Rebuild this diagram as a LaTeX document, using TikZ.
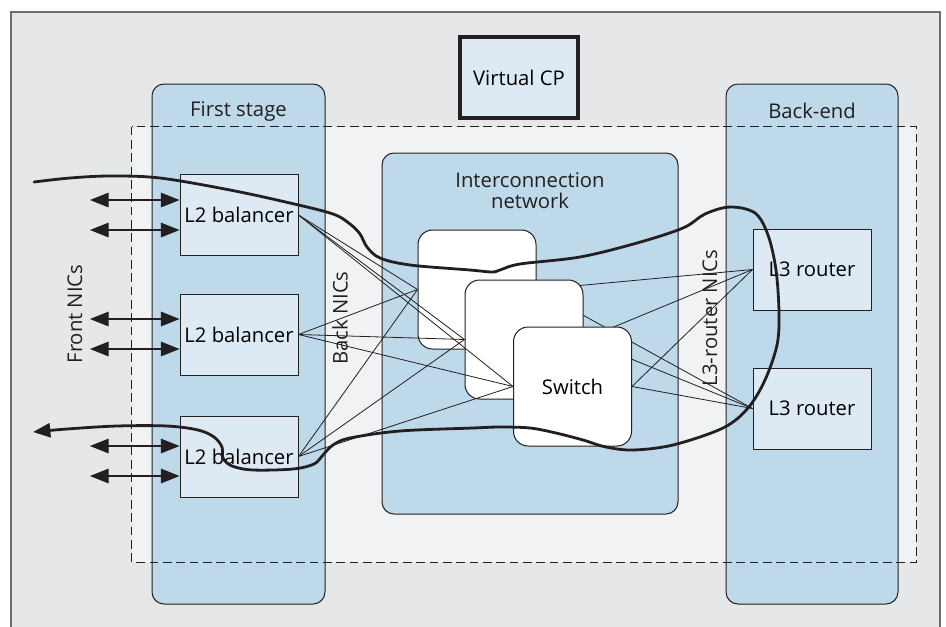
\documentclass[tikz,border=0pt]{standalone}
\usepackage{fontspec}
\setmainfont{Open Sans}
\usetikzlibrary{arrows.meta}
\definecolor{outerbg}{HTML}{E6E7E9}
\definecolor{framec}{HTML}{6D6E71}
\definecolor{zonebg}{HTML}{F1F2F4}
\definecolor{blueC}{HTML}{BDD9EA}
\definecolor{lightB}{HTML}{DDEAF4}
\definecolor{ink}{HTML}{231F20}
\begin{document}
\begin{tikzpicture}[x=0.75pt,y=-0.75pt,
  font=\fontsize{15.2}{18}\selectfont,
  container/.style={draw=ink, line width=0.75pt, fill=blueC, rounded corners=9pt, inner sep=0pt},
  lbox/.style={draw=ink, line width=0.75pt, fill=lightB, minimum width=118*0.75pt, minimum height=81*0.75pt, inner sep=0pt},
  swbox/.style={draw=ink, line width=0.75pt, fill=white, rounded corners=11pt, minimum width=118*0.75pt, minimum height=119*0.75pt, inner sep=0pt},
  wire/.style={line width=0.6pt, draw=ink},
  flow/.style={line width=2.1pt, draw=ink, line cap=round},
  bidir/.style={{Triangle[length=14pt,width=11pt]}-{Triangle[length=14pt,width=11pt]}, line width=0.8pt, draw=ink, fill=ink},
  nic/.style={rotate=90, inner sep=0pt},
  txt/.style={inner sep=0pt, text=ink}
]
\useasboundingbox (0,0) rectangle (946,626);
% outer frame
\fill[outerbg] (11,12) rectangle (940,660);
\draw[framec, line width=0.9pt] (11,660) -- (11,12) -- (940,12) -- (940,660);
% dashed zone fill
\node[fill=zonebg, minimum width=784*0.75pt, minimum height=435*0.75pt, inner sep=0pt] (zone) at (524,344.5) {};
% containers
\node[container, minimum width=173*0.75pt, minimum height=520*0.75pt] (first) at (238.5,344) {};
\node[container, minimum width=172*0.75pt, minimum height=520*0.75pt] (back) at (812,344) {};
\node[container, minimum width=296*0.75pt, minimum height=361*0.75pt] (inter) at (530,333.5) {};
\node[txt] (firstlbl) at (238.5,111) {First stage};
\node[txt] (backlbl) at (812,111) {Back-end};
\node[txt, align=center, font=\fontsize{15.2}{15.8}\selectfont] (interlbl) at (530,191) {Interconnection\\network};
% dashed border
\draw[ink, line width=1pt, dash pattern=on 6.5pt off 3.5pt] (zone.north west) rectangle (zone.south east);
% virtual CP
\node[draw=ink, line width=2.3pt, fill=lightB, minimum width=118*0.75pt, minimum height=81*0.75pt, inner sep=0pt] (vcp) at (519,77.5) {Virtual CP};
% L2 balancers
\node[lbox] (bal1) at (239,215) {L2 balancer};
\node[lbox] (bal2) at (239,334.5) {L2 balancer};
\node[lbox] (bal3) at (239,456.5) {L2 balancer};
% L3 routers
\node[lbox] (r1) at (812,269.5) {L3 router};
\node[lbox] (r2) at (812,408.5) {L3 router};
% NIC labels
\node[txt, nic] (frontnic) at (75,314) {Front NICs};
\node[txt, nic] (backnic) at (340,318) {Back NICs};
\node[txt, nic] (l3nic) at (710,318) {L3-router NICs};
% front double arrows
\coordinate (f1a) at (90,200); \coordinate (f1b) at (90,230);
\coordinate (f2a) at (90,319); \coordinate (f2b) at (90,349);
\coordinate (f3a) at (90,446); \coordinate (f3b) at (90,476);
\draw[bidir] (f1a) -- (f1a -| bal1.west);
\draw[bidir] (f1b) -- (f1b -| bal1.west);
\draw[bidir] (f2a) -- (f2a -| bal2.west);
\draw[bidir] (f2b) -- (f2b -| bal2.west);
\draw[bidir] (f3a) -- (f3a -| bal3.west);
\draw[bidir] (f3b) -- (f3b -| bal3.west);
% switch A
\node[swbox] (swA) at (477,289.5) {};
\draw[wire] (bal1.east) -- (swA.west);
\draw[wire] (bal2.east) -- (swA.west);
\draw[wire] (bal3.east) -- (swA.west);
\draw[wire] (swA.east) -- (r1.west);
\draw[wire] (swA.east) -- (r2.west);
% switch B
\node[swbox] (swB) at (524,339.5) {};
\draw[wire] (bal1.east) -- (swB.west);
\draw[wire] (bal2.east) -- (swB.west);
\draw[wire] (bal3.east) -- (swB.west);
\draw[wire] (swB.east) -- (r1.west);
\draw[wire] (swB.east) -- (r2.west);
% switch C
\node[swbox] (swC) at (572.5,386.5) {Switch};
\draw[wire] (bal1.east) -- (swC.west);
\draw[wire] (bal2.east) -- (swC.west);
\draw[wire] (bal3.east) -- (swC.west);
\draw[wire] (swC.east) -- (r1.west);
\draw[wire] (swC.east) -- (r2.west);
% traffic flow
\draw[flow, -{Triangle[length=13pt,width=10.5pt]}] plot[smooth, tension=0.55] coordinates {
 (34,182) (70,178) (110,176) (160,178) (230,190) (290,203) (333,214) (350,224) (360,234) (367,247) (380,258) (410,265) (470,270) (492,272) (500,270) (520,264) (580,257) (637,243) (683,228) (705,214) (730,207) (755,213) (768,235) (776,270) (779,313) (777,345) (765,380) (748,408) (723,428) (673,445) (633,450) (606,447) (583,440) (556,433) (530,428) (500,427) (473,428) (400,431) (350,438) (333,445) (323,455) (314,464) (293,469) (253,470) (232,466) (223,458) (222,447) (214,437) (198,430) (167,426) (117,426) (67,429) (33,432)};
\end{tikzpicture}
\end{document}
